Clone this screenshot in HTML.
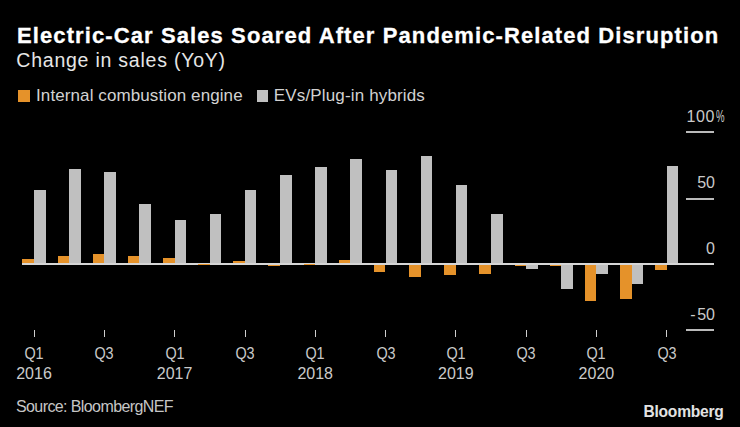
<!DOCTYPE html>
<html><head><meta charset="utf-8"><style>
html,body{margin:0;padding:0;background:#000;width:740px;height:427px;overflow:hidden}
body{position:relative;font-family:"Liberation Sans",sans-serif}
.t{position:absolute;white-space:nowrap;line-height:1}
.b{position:absolute}
.tk{position:absolute;top:330px;width:1px;height:7px;background:#cfcfcf}
.xl{position:absolute;width:80px;text-align:center;font-size:16px;line-height:1;color:#cacaca;white-space:nowrap}
.gl{position:absolute;left:686px;width:28px;height:2px;background:#bababa}
.yl{position:absolute;right:25px;font-size:16px;line-height:1;color:#cacaca;white-space:nowrap;text-align:right}
</style></head><body>
<div class="t" style="left:17px;top:25px;font-size:22px;font-weight:bold;color:#fff;letter-spacing:1.1px;-webkit-text-stroke:0.3px #fff">Electric-Car Sales Soared After Pandemic-Related Disruption</div>
<div class="t" style="left:16.3px;top:50.5px;font-size:19.5px;color:#e6e6e6;letter-spacing:0.77px">Change in sales (YoY)</div>
<div class="b" style="left:18px;top:90px;width:11.7px;height:11.7px;background:#e5922a"></div>
<div class="t" style="left:36px;top:87px;font-size:17px;color:#d2d2d2;letter-spacing:0.1px">Internal combustion engine</div>
<div class="b" style="left:256.8px;top:90px;width:11.4px;height:11.7px;background:#c0c0c0"></div>
<div class="t" style="left:273.8px;top:87px;font-size:17px;color:#d2d2d2;letter-spacing:0.15px">EVs/Plug-in hybrids</div>
<div class="b" style="left:22.40px;top:259.10px;width:11.6px;height:5.20px;background:#e5922a"></div><div class="b" style="left:34.00px;top:190.10px;width:11.6px;height:74.20px;background:#c0c0c0"></div><div class="b" style="left:57.55px;top:256.00px;width:11.6px;height:8.30px;background:#e5922a"></div><div class="b" style="left:69.15px;top:168.90px;width:11.6px;height:95.40px;background:#c0c0c0"></div><div class="b" style="left:92.70px;top:254.00px;width:11.6px;height:10.30px;background:#e5922a"></div><div class="b" style="left:104.30px;top:171.70px;width:11.6px;height:92.60px;background:#c0c0c0"></div><div class="b" style="left:127.85px;top:256.00px;width:11.6px;height:8.30px;background:#e5922a"></div><div class="b" style="left:139.45px;top:203.60px;width:11.6px;height:60.70px;background:#c0c0c0"></div><div class="b" style="left:163.00px;top:257.60px;width:11.6px;height:6.70px;background:#e5922a"></div><div class="b" style="left:174.60px;top:219.90px;width:11.6px;height:44.40px;background:#c0c0c0"></div><div class="b" style="left:209.75px;top:213.70px;width:11.6px;height:50.60px;background:#c0c0c0"></div><div class="b" style="left:233.30px;top:261.40px;width:11.6px;height:2.90px;background:#e5922a"></div><div class="b" style="left:244.90px;top:190.10px;width:11.6px;height:74.20px;background:#c0c0c0"></div><div class="b" style="left:268.45px;top:264.30px;width:11.6px;height:1.50px;background:#e5922a"></div><div class="b" style="left:280.05px;top:175.00px;width:11.6px;height:89.30px;background:#c0c0c0"></div><div class="b" style="left:315.20px;top:167.10px;width:11.6px;height:97.20px;background:#c0c0c0"></div><div class="b" style="left:338.75px;top:260.10px;width:11.6px;height:4.20px;background:#e5922a"></div><div class="b" style="left:350.35px;top:158.80px;width:11.6px;height:105.50px;background:#c0c0c0"></div><div class="b" style="left:373.90px;top:264.30px;width:11.6px;height:7.40px;background:#e5922a"></div><div class="b" style="left:385.50px;top:169.50px;width:11.6px;height:94.80px;background:#c0c0c0"></div><div class="b" style="left:409.05px;top:264.30px;width:11.6px;height:13.00px;background:#e5922a"></div><div class="b" style="left:420.65px;top:156.10px;width:11.6px;height:108.20px;background:#c0c0c0"></div><div class="b" style="left:444.20px;top:264.30px;width:11.6px;height:10.70px;background:#e5922a"></div><div class="b" style="left:455.80px;top:185.00px;width:11.6px;height:79.30px;background:#c0c0c0"></div><div class="b" style="left:479.35px;top:264.30px;width:11.6px;height:9.70px;background:#e5922a"></div><div class="b" style="left:490.95px;top:213.70px;width:11.6px;height:50.60px;background:#c0c0c0"></div><div class="b" style="left:514.50px;top:264.30px;width:11.6px;height:1.60px;background:#e5922a"></div><div class="b" style="left:526.10px;top:264.30px;width:11.6px;height:5.20px;background:#c0c0c0"></div><div class="b" style="left:549.65px;top:264.30px;width:11.6px;height:1.50px;background:#e5922a"></div><div class="b" style="left:561.25px;top:264.30px;width:11.6px;height:24.90px;background:#c0c0c0"></div><div class="b" style="left:584.80px;top:264.30px;width:11.6px;height:36.60px;background:#e5922a"></div><div class="b" style="left:596.40px;top:264.30px;width:11.6px;height:9.30px;background:#c0c0c0"></div><div class="b" style="left:619.95px;top:264.30px;width:11.6px;height:34.60px;background:#e5922a"></div><div class="b" style="left:631.55px;top:264.30px;width:11.6px;height:20.20px;background:#c0c0c0"></div><div class="b" style="left:655.10px;top:264.30px;width:11.6px;height:6.20px;background:#e5922a"></div><div class="b" style="left:666.70px;top:165.50px;width:11.6px;height:98.80px;background:#c0c0c0"></div>
<div class="b" style="left:22px;top:263.3px;width:692px;height:2px;background:#d6d6d6"></div>
<div class="b" style="left:198.15px;top:264.00px;width:11.6px;height:1px;background:#e5922a"></div><div class="b" style="left:303.60px;top:264.00px;width:11.6px;height:1px;background:#e5922a"></div>
<div class="gl" style="top:131.00px"></div><div class="gl" style="top:198.00px"></div><div class="gl" style="top:329.00px"></div>
<div class="tk" style="left:33.60px"></div><div class="tk" style="left:103.90px"></div><div class="tk" style="left:174.20px"></div><div class="tk" style="left:244.50px"></div><div class="tk" style="left:314.80px"></div><div class="tk" style="left:385.10px"></div><div class="tk" style="left:455.40px"></div><div class="tk" style="left:525.70px"></div><div class="tk" style="left:596.00px"></div><div class="tk" style="left:666.30px"></div>
<div class="xl" style="left:-6.00px;top:346.4px;transform:scaleX(0.9)">Q1</div><div class="xl" style="left:-6.00px;top:365.8px">2016</div><div class="xl" style="left:64.30px;top:346.4px;transform:scaleX(0.9)">Q3</div><div class="xl" style="left:134.60px;top:346.4px;transform:scaleX(0.9)">Q1</div><div class="xl" style="left:134.60px;top:365.8px">2017</div><div class="xl" style="left:204.90px;top:346.4px;transform:scaleX(0.9)">Q3</div><div class="xl" style="left:275.20px;top:346.4px;transform:scaleX(0.9)">Q1</div><div class="xl" style="left:275.20px;top:365.8px">2018</div><div class="xl" style="left:345.50px;top:346.4px;transform:scaleX(0.9)">Q3</div><div class="xl" style="left:415.80px;top:346.4px;transform:scaleX(0.9)">Q1</div><div class="xl" style="left:415.80px;top:365.8px">2019</div><div class="xl" style="left:486.10px;top:346.4px;transform:scaleX(0.9)">Q3</div><div class="xl" style="left:556.40px;top:346.4px;transform:scaleX(0.9)">Q1</div><div class="xl" style="left:556.40px;top:365.8px">2020</div><div class="xl" style="left:626.70px;top:346.4px;transform:scaleX(0.9)">Q3</div>
<div class="yl" style="top:108.8px;right:25px;letter-spacing:0.6px">100<span style="position:absolute;left:100%;top:0;display:inline-block;transform:scaleX(0.6);transform-origin:0 0;margin-left:0.5px">%</span></div>
<div class="yl" style="top:175px">50</div>
<div class="yl" style="top:241px">0</div>
<div class="yl" style="top:307px"><span style="letter-spacing:1.6px">-</span>50</div>
<div class="t" style="left:16px;top:398.6px;font-size:16px;color:#c6c6c6;letter-spacing:-0.6px">Source: BloombergNEF</div>
<div class="t" style="left:643.5px;top:404.4px;font-size:15.6px;font-weight:bold;color:#e2e2e2;letter-spacing:-0.25px">Bloomberg</div>
</body></html>
